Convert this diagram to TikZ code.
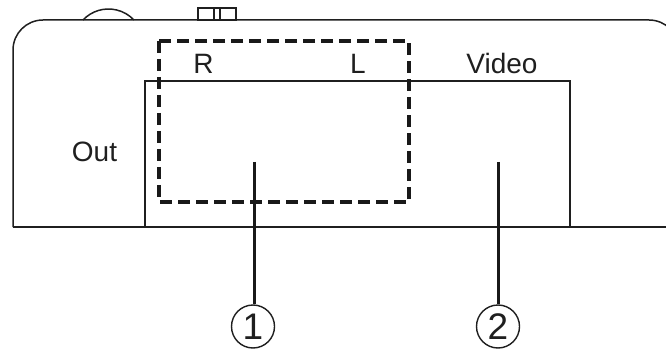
\documentclass[tikz,border=0pt]{standalone}
\usepackage{fontspec}
\newfontfamily\labfont{Liberation Sans}
\begin{document}
\begin{tikzpicture}[x=1pt,y=1pt,
  outline/.style={draw=black!88, line width=1.5pt},
  dashbox/.style={draw=black!90, line width=3.6pt, dash pattern=on 12pt off 6pt},
  leader/.style={draw=black!90, line width=3pt},
  lab/.style={font=\labfont\fontsize{28}{30}\selectfont, text=black!88, inner sep=0pt, anchor=base},
  num/.style={circle, draw=black!88, line width=1.4pt, minimum size=43pt, inner sep=0pt,
    font=\labfont\fontsize{37}{37}\selectfont, text=black!88}]
\useasboundingbox (0,0) rectangle (666,351);
\clip (0,0) rectangle (666,351);
% body outline
\draw[outline] (13,124) -- (13,301) arc[start angle=180, end angle=90, radius=30]
  -- (649,331) arc[start angle=90, end angle=0, radius=30] -- (679,124);
\draw[outline] (13,124) -- (670,124);
% bump on top
\draw[outline] (83,331) arc[start angle=136.7, end angle=43.3, radius=35];
% small switch on top
\draw[outline, line width=1.2pt] (198,331) rectangle (236,343);
\draw[outline, line width=1.2pt] (214,331) -- (214,343) (220,331) -- (220,343);
% recess
\draw[outline] (145,124) -- (145,270) -- (570,270) -- (570,124);
% dashed box
\draw[dashbox] (159,310) rectangle (409,149);
% labels
\node[lab] (r) at (203.5,277) {R};
\node[lab] (l) at (358,277) {L};
\node[lab] (v) at (502,277) {Video};
\node[lab] (o) at (94.5,189) {Out};
% numbered callouts
\node[num] (c1) at (253,24.5) {1};
\node[num] (c2) at (498,24.5) {2};
\coordinate (t1) at (254,189);
\coordinate (t2) at (498,189);
\draw[leader] (t1) -- (t1 |- c1.north);
\draw[leader] (t2) -- (c2.north);
\end{tikzpicture}
\end{document}
